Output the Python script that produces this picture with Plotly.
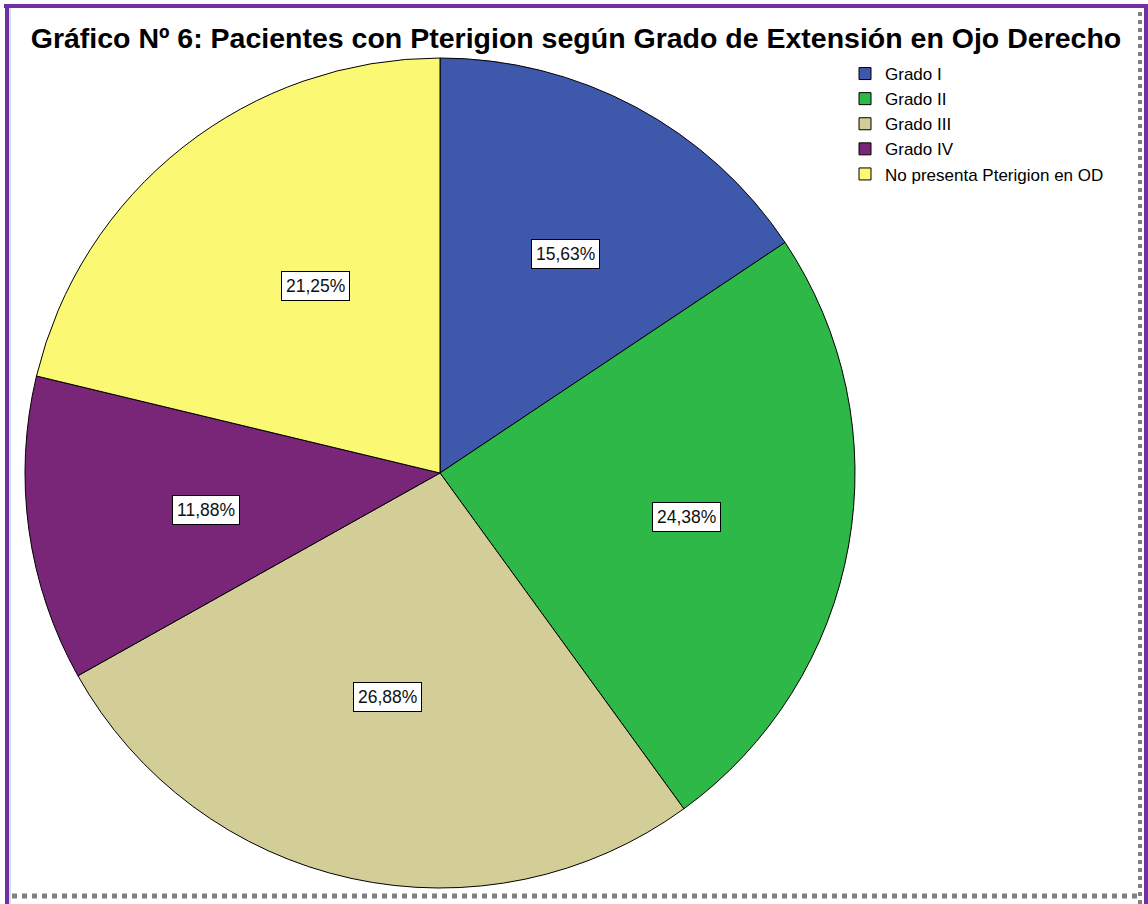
import math
import plotly.graph_objects as go

# data
grados = ['Grado I', 'Grado II', 'Grado III', 'Grado IV', 'No presenta Pterigion en OD']
porcentajes = [15.63, 24.38, 26.88, 11.88, 21.25]
colores = ['#3E58AC', '#2EB848', '#D3CE97', '#7A2678', '#FBF873']
titulo = 'Gráfico Nº 6: Pacientes con Pterigion según Grado de Extensión en Ojo Derecho'

W, H = 1148, 904
# pie geometry in pixels (center and radius)
cx, cy, R = 440, 473, 415

fig = go.Figure()
fig.add_trace(go.Pie(
    labels=grados,
    values=porcentajes,
    sort=False,
    direction='clockwise',
    rotation=0,
    marker=dict(colors=colores, line=dict(color='black', width=1)),
    textinfo='none',
    hoverinfo='label+percent',
    domain=dict(x=[(cx - R) / W, (cx + R) / W], y=[1 - (cy + R) / H, 1 - (cy - R) / H]),
))

# labels with white box, put at each slice centroid
total = sum(porcentajes)
acum = 0
for v in porcentajes:
    ang = v / total * 2 * math.pi
    mid = (acum + v / 2) / total * 2 * math.pi
    acum += v
    d = 4 * R * math.sin(ang / 2) / (3 * ang)
    px_ = cx + d * math.sin(mid)
    py_ = cy - d * math.cos(mid)
    fig.add_annotation(
        x=px_ / W, y=1 - py_ / H, xref='paper', yref='paper',
        text=f'{v:.2f}%'.replace('.', ','),
        showarrow=False,
        font=dict(family='Liberation Sans, Arial', size=17.5, color='#111111'),
        bgcolor='white', bordercolor='black', borderwidth=1, borderpad=4,
    )

# frame around the picture
fig.add_shape(type='line', xref='paper', yref='paper', x0=4 / W, x1=1, y0=1 - 6 / H, y1=1 - 6 / H,
              line=dict(color='#7030A0', width=4))
fig.add_shape(type='line', xref='paper', yref='paper', x0=7 / W, x1=7 / W, y0=0, y1=1 - 4 / H,
              line=dict(color='#7030A0', width=4))
fig.add_shape(type='line', xref='paper', yref='paper', x0=10 / W, x1=10 / W, y0=0, y1=1 - 8 / H,
              line=dict(color='#9CC3E6', width=1))
fig.add_shape(type='line', xref='paper', yref='paper', x0=1146 / W, x1=1146 / W, y0=0, y1=1 - 4 / H,
              line=dict(color='#7030A0', width=4))
fig.add_shape(type='line', xref='paper', yref='paper', x0=1140 / W, x1=1140 / W, y0=0, y1=1 - 10 / H,
              line=dict(color='#808080', width=4, dash='dot'))
fig.add_shape(type='line', xref='paper', yref='paper', x0=12 / W, x1=1142 / W, y0=1 - 896 / H, y1=1 - 896 / H,
              line=dict(color='#808080', width=5, dash='dot'))

fig.update_layout(
    width=W, height=H,
    margin=dict(l=0, r=0, t=0, b=0),
    paper_bgcolor='white',
    title=dict(text=titulo, x=576 / W, xanchor='center', y=1 - 38 / H, yanchor='middle',
               font=dict(family='Liberation Sans Narrow, Liberation Sans, Arial', size=28.5,
                         color='black', weight='bold')),
    legend=dict(x=845 / W, y=1 - 56 / H, xanchor='left', yanchor='top',
                font=dict(family='Liberation Sans, Arial', size=17, color='black'),
                bgcolor='rgba(0,0,0,0)', itemwidth=30, tracegroupgap=0),
    showlegend=True,
)

fig.write_html('out.html', config={'displayModeBar': False},
               post_script="document.body.style.margin='0';")
